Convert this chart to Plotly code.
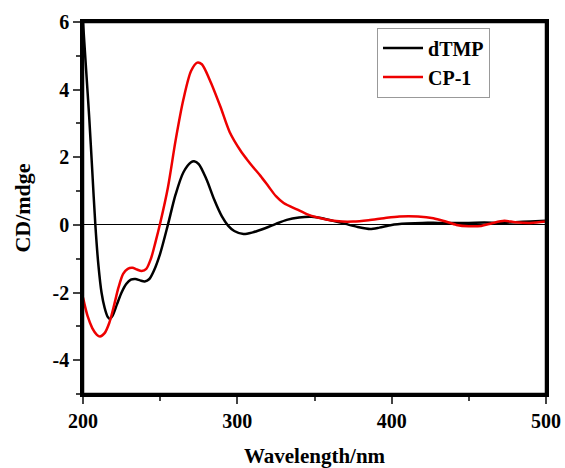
import plotly.graph_objects as go

wl_dtmp = [200, 202, 204, 206, 208, 210, 212, 214, 216, 217.5, 219, 222, 225, 228, 231, 234, 237, 240,
           243, 246, 250, 255, 260, 265, 270, 272, 275, 280, 285, 290, 294, 298, 304, 310, 318, 325,
           332, 340, 348, 355, 362, 370, 378, 386, 392, 400, 410, 420, 430, 440, 450, 460, 470, 480, 490, 500]
cd_dtmp = [6.0, 4.6, 3.2, 1.6, 0.0, -1.2, -2.0, -2.45, -2.72, -2.78, -2.7, -2.35, -2.0, -1.75, -1.62, -1.6, -1.64, -1.67,
           -1.6, -1.35, -0.85, 0.0, 0.9, 1.55, 1.85, 1.88, 1.8, 1.35, 0.75, 0.25, -0.02, -0.18, -0.27, -0.22, -0.1, 0.03,
           0.15, 0.22, 0.24, 0.2, 0.12, 0.03, -0.06, -0.12, -0.08, 0.0, 0.04, 0.06, 0.06, 0.06, 0.06, 0.07, 0.06, 0.08, 0.1, 0.12]

wl_cp1 = [200, 203, 206, 209, 211, 214, 217, 220, 223, 226, 229, 232, 235, 238, 241, 244, 247, 250, 255, 260,
          265, 270, 274, 277, 282, 289, 295, 302, 306, 310, 315, 320, 325, 330, 339, 345, 352, 360, 368, 375,
          385, 395, 405, 417, 427, 435, 442, 450, 458, 465, 473, 480, 490, 500]
cd_cp1 = [-2.15, -2.7, -3.05, -3.25, -3.3, -3.2, -2.9, -2.4, -1.85, -1.45, -1.3, -1.27, -1.32, -1.36, -1.3, -1.0, -0.5, 0.05, 1.1, 2.5,
          3.7, 4.55, 4.8, 4.75, 4.3, 3.5, 2.75, 2.2, 1.95, 1.72, 1.45, 1.15, 0.85, 0.65, 0.45, 0.32, 0.22, 0.14, 0.1, 0.1,
          0.14, 0.2, 0.25, 0.25, 0.2, 0.1, 0.0, -0.04, -0.03, 0.05, 0.12, 0.08, 0.06, 0.1]

x_ticks = [200, 300, 400, 500]
x_ticktext = ["200", "300", "400", "500"]
y_ticks = [-4, -2, 0, 2, 4, 6]
y_ticktext = ["-4", "-2", "0", "2", "4", "6"]

font_family = "Liberation Serif"

fig = go.Figure()
fig.add_trace(go.Scatter(x=wl_dtmp, y=cd_dtmp, mode="lines", name="dTMP",
                         line=dict(color="black", width=2.5, shape="spline", smoothing=0.8)))
fig.add_trace(go.Scatter(x=wl_cp1, y=cd_cp1, mode="lines", name="CP-1",
                         line=dict(color="#ee0000", width=2.5, shape="spline", smoothing=0.8)))

fig.update_layout(
    width=565, height=468,
    margin=dict(l=83, r=19, t=22, b=74),
    paper_bgcolor="white", plot_bgcolor="white",
    font=dict(family=font_family, color="black", size=20),
    showlegend=True,
    legend=dict(x=0.635, y=0.985, xanchor="left", yanchor="top",
                bgcolor="white", bordercolor="#999999", borderwidth=1,
                font=dict(family=font_family, size=20, weight="bold"),
                itemwidth=40, tracegroupgap=0),
    shapes=[dict(type="rect", xref="paper", yref="paper", x0=0, x1=1, y0=0, y1=1,
                 line=dict(color="black", width=2.5), fillcolor="rgba(0,0,0,0)", layer="above")],
)
fig.update_xaxes(
    range=[200, 500], tickvals=x_ticks, ticktext=x_ticktext, ticks="outside", ticklen=7, tickwidth=2,
    showline=True, linecolor="black", linewidth=2.5, mirror=True, showgrid=False, zeroline=False,
    automargin=False,
    minor=dict(ticks="outside", ticklen=4, tickwidth=2, dtick=50, showgrid=False),
    tickfont=dict(family=font_family, size=20, weight="bold"),
    title=dict(text="Wavelength/nm", font=dict(family=font_family, size=21, weight="bold"), standoff=22),
)
fig.update_yaxes(
    range=[-5, 6], tickvals=y_ticks, ticktext=y_ticktext, ticks="outside", ticklen=7, tickwidth=2,
    showline=True, linecolor="black", linewidth=2.5, mirror=True, showgrid=False,
    zeroline=True, zerolinecolor="black", zerolinewidth=1.2, automargin=False,
    minor=dict(ticks="outside", ticklen=4, tickwidth=2, dtick=1, showgrid=False),
    tickfont=dict(family=font_family, size=20, weight="bold"),
    title=dict(text="CD/mdge", font=dict(family=font_family, size=22, weight="bold"), standoff=16),
)

fig.write_html("out.html")
